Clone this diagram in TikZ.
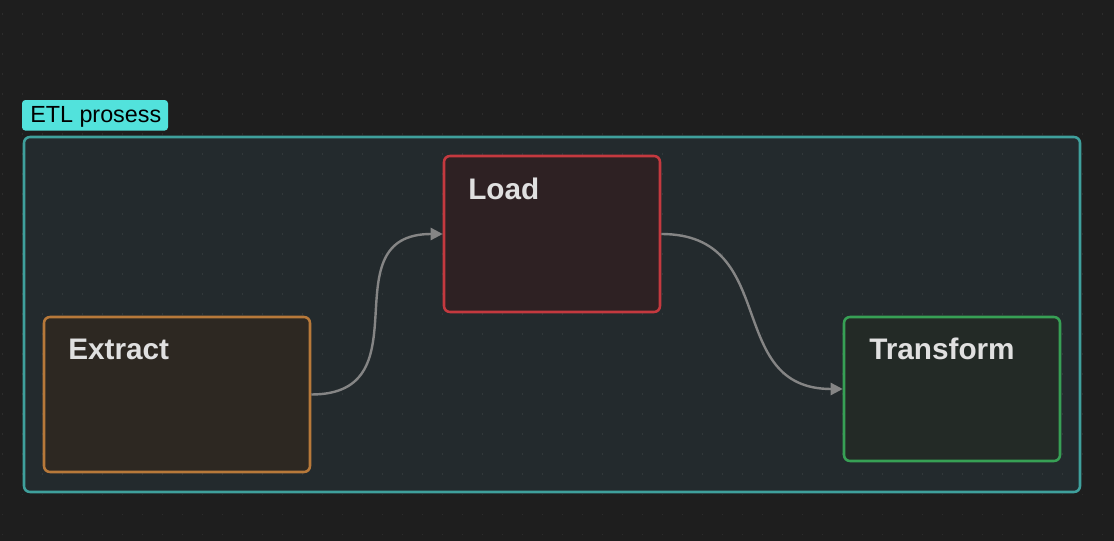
\documentclass[tikz,border=0pt]{standalone}
\usepackage{fontspec}
\setmainfont{Liberation Sans}
\usetikzlibrary{arrows.meta}
\definecolor{bg}{HTML}{1E1E1E}
\definecolor{grpfill}{HTML}{232A2D}
\definecolor{grpline}{HTML}{3FA09C}
\definecolor{lblfill}{HTML}{52E2DC}
\definecolor{exline}{HTML}{B7793A}
\definecolor{exfill}{HTML}{2D2822}
\definecolor{ldline}{HTML}{C4393F}
\definecolor{ldfill}{HTML}{2E2123}
\definecolor{trline}{HTML}{37A055}
\definecolor{trfill}{HTML}{232A26}
\definecolor{edgecol}{HTML}{858585}
\definecolor{titlecol}{HTML}{E0E0E0}
\tikzset{
  stepbox/.style={draw, line width=1.9pt, rounded corners=4.5pt, inner sep=0pt},
  titletext/.style={anchor=base west, inner sep=0pt, text=titlecol, font=\fontsize{22.3pt}{25pt}\selectfont\bfseries},
  flow/.style={draw=edgecol, line width=1.8pt, -{Triangle[length=9pt,width=9pt]}},
}
\begin{document}
\begin{tikzpicture}[x=0.75pt,y=-0.75pt]
\fill[bg] (0,0) rectangle (1114,541);
\useasboundingbox (0,0) rectangle (1114,541);
% group
\node[draw=grpline, fill=grpfill, line width=1.9pt, rounded corners=4.5pt, minimum width=792pt, minimum height=266.25pt, inner sep=0pt] (grp) at (552,314.5) {};
% dot grid
\foreach \i in {0,...,55}{
  \foreach \j in {0,...,26}{
    \fill[white, opacity=0.07] ({2.3+20*\i-0.8},{14.3+20*\j-0.8}) rectangle ++(1.6,1.6);
  }
}
% label
\node[fill=lblfill, rounded corners=2.5pt, minimum width=109.5pt, minimum height=22.9pt, inner sep=0pt] (lbl) at (95,115.3) {};
\node[anchor=base west, inner sep=0pt, text=black, font=\fontsize{17.5pt}{20pt}\selectfont] (lbltext) at (30,122.6) {ETL prosess};
% nodes
\node[stepbox, draw=exline, fill=exfill, minimum width=199.5pt, minimum height=116.25pt] (ext) at (177,394.5) {};
\node[stepbox, draw=ldline, fill=ldfill, minimum width=162pt, minimum height=117pt] (load) at (552,234) {};
\node[stepbox, draw=trline, fill=trfill, minimum width=162pt, minimum height=108pt] (tr) at (952,389) {};
\node[titletext] (extt) at (68,360) {Extract};
\node[titletext] (loadt) at (468,200) {Load};
\node[titletext] (trt) at (869,360) {Transform};
% edges
\draw[flow] (ext.east) .. controls +(116,0) and +(-116,0) .. (load.west);
\draw[flow] (load.east) .. controls +(120,0) and +(-120,0) .. (tr.west);
\end{tikzpicture}
\end{document}
